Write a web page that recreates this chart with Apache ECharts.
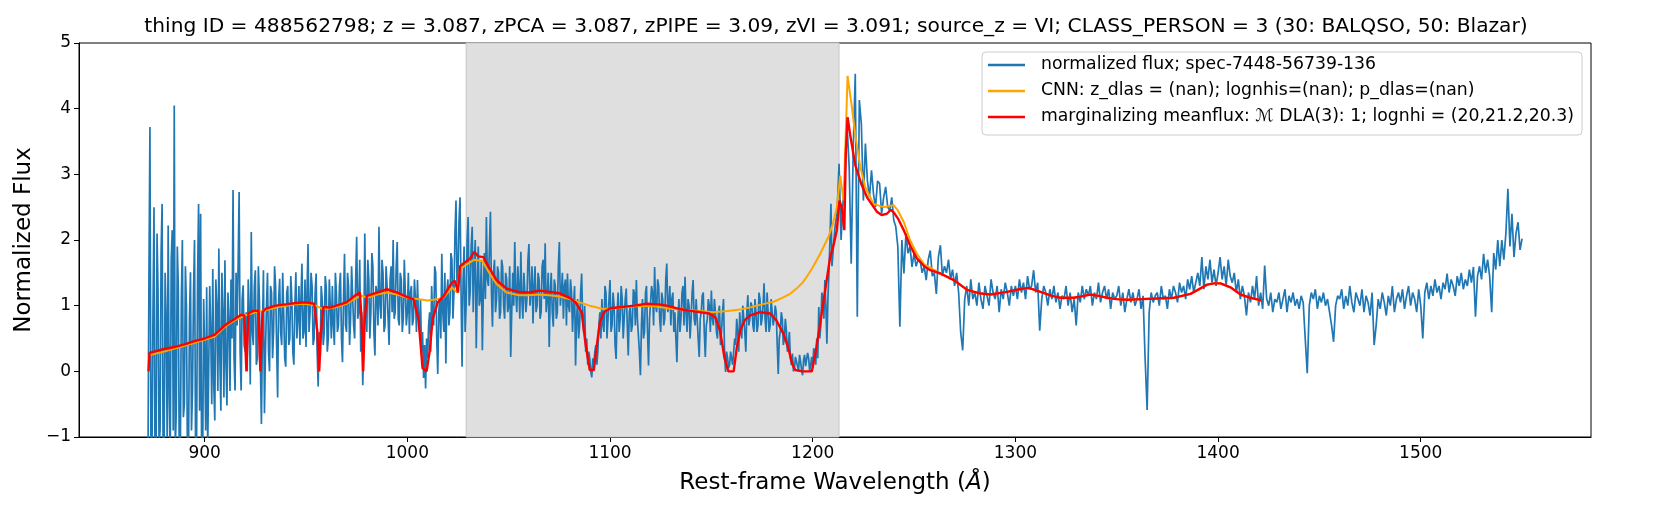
<!DOCTYPE html>
<html>
<head>
<meta charset="utf-8">
<title>spec-7448-56739-136</title>
<script src="https://cdn.jsdelivr.net/npm/echarts@6/dist/echarts.min.js"></script>
<style>
    html, body { margin: 0; padding: 0; background: #fff; }
    #chart { width: 1661px; height: 519px; }
</style>
</head>
<body>
<div id="chart"></div>
<script>
// tick labels
var xTicks = [900, 1000, 1100, 1200, 1300, 1400, 1500];
var yTicks = [-1, 0, 1, 2, 3, 4, 5];

// shaded window (rest-frame wavelength)
var bandRange = [1029, 1213];

// normalized flux, Lyman forest: every half angstrom from 872 to 1029.5
var blueStartA = 872;
var blueStepA = 0.5;
var blueFluxA = [
    -1.6, 1.4, 3.72, -1.2, -1.3, 0.9, 2.5, -1.4, -1.5, 2.1,
    1.2, -1.1, -0.9, 1.8, 2.55, -1.3,
    -1.2, 1.5, 0.8, -1.0, 2.22, -0.4, -1.4, 1.7, 2.15, -0.9,
    4.05, -1.2, -0.6, 1.9, 1.3, -1.5, -1.3, 1.1, 2.0, -0.7,
    -0.5, 1.6, 1.0, -1.3, -1.4, 0.8, 1.51, -0.9, -0.3, 1.2,
    2.0, -1.1, -1.2, 1.4, 2.55, -0.6, 2.4, -1.3, -1.5, 1.1,
    0.3, -0.9, 1.28, -1.2, -1.2, 1.3, 0.6, -0.5, 1.56, -0.2,
    -0.75, 1.4, 1.0, -0.3, 1.87, 0.2, -0.6, 1.5, 0.9, -0.4,
    1.69, 0.1, -0.52, 1.2, 0.8, -0.3, 1.4, 0.5, 2.76, 0.2,
    -0.29, 1.5, 0.7, 1.6, 2.73, 0.3, -0.29, 1.1, 1.31, 0.4,
    0.3, 0.9, 0.0, 1.4, 0.9, -0.2, 2.12, 0.6, 0.4, 1.3,
    1.54, 0.1, 0.2, 1.6, 1.1, 0.1, -0.8, 0.6, 1.54, -0.64,
    0.3, 1.0, 1.5, 0.3, 0.0, 1.3, 1.2, 0.2, 0.6, 1.6,
    1.3, 0.4, -0.4, 1.1, 1.41, 0.6, 0.4, 1.5, 0.9, 0.2,
    0.07, 1.2, 1.3, 0.4, 0.5, 1.45, 1.1, 0.3, 0.1, 1.0,
    1.51, 0.5, 0.8, 1.3, 0.4, 1.1, 1.64, 0.5, 0.6, 1.4,
    0.37, 1.2, 1.94, 0.6, 0.9, 1.5, 1.3, 0.4, 0.5, 1.2,
    1.49, 0.3, -0.23, 0.6, 0.2, 1.3, 1.1, 0.4, 0.6, 1.45,
    1.28, 0.3, 0.5, 1.4, 1.0, 0.5, 1.3, 0.7, 0.4, 1.5,
    1.2, 0.6, 0.7, 1.3, 1.5, 0.5, 0.14, 1.1, 1.79, 0.7,
    0.6, 1.5, 1.3, 0.4, 0.8, 1.6, 1.6, 0.7, 0.5, 1.4,
    2.05, 0.8, 0.9, 1.7, 0.3, 0.9, -0.21, 0.4, 2.1, 0.9,
    0.6, 1.7, 1.4, 0.5, 0.9, 1.8, 1.6, 0.6, 0.24, 1.3,
    1.2, 0.7, 2.2, 1.0, 0.8, 1.7, 1.5, 0.6, 0.7, 1.6,
    1.3, 0.8, 0.4, 1.4, 1.6, 0.9, 2.0, 0.8, 0.9, 1.6,
    1.97, 0.8, 0.7, 1.5, 1.4, 0.6, 0.8, 1.7, 1.2, 0.7,
    0.9, 1.5, 0.57, 1.2, 1.3, 0.7, 0.8, 1.4, 1.1, 0.6,
    1.39, 0.8, 0.6, 1.1, 0.3, 0.6, -0.1, 0.4, -0.26, 0.5,
    0.2, 0.7, 0.9, 0.3, 1.3, 0.8, 0.7, 1.6, 1.5, 0.5,
    -0.04, 0.9, 1.1, 0.5, 1.79, 0.9, 0.6, 1.5, 0.12, 1.2,
    1.4, 0.7, 0.9, 1.8, 1.7, 0.8, 1.2, 2.1, 2.6, 1.3,
    1.5, 2.3, 2.65, 1.2, 0.07, 1.4, 1.9, 0.6, 1.0, 2.0
];

// normalized flux, shaded window: every half angstrom from 1030 to 1209.5
var blueStartB = 1030;
var blueStepB = 0.5;
var blueFluxB = [
    2.35, 1.0, 1.2, 1.9, 2.2, 0.9, 1.6, 2.0, 0.35, 1.3,
    1.9, 1.0, 1.1, 1.7, 0.32, 1.2, 1.8, 1.1, 2.35, 1.4,
    1.3, 1.9, 2.43, 1.2, 0.68, 1.5, 1.7, 0.9, 1.1, 1.6,
    1.5, 0.8, 0.9, 1.7, 1.6, 1.0, 0.8, 1.5, 1.4, 0.9,
    1.0, 1.6, 0.22, 0.9, 1.5, 1.0, 1.97, 1.2, 0.9, 1.6,
    1.3, 0.8, 1.82, 1.1, 0.8, 1.5, 1.5, 0.9, 1.1, 1.7,
    1.94, 1.0, 1.2, 1.6, 0.73, 1.3, 1.6, 0.9, 1.0, 1.5,
    1.4, 0.8, 0.9, 1.6, 1.7, 1.1, 1.95, 0.9, 1.1, 1.5,
    0.37, 1.2, 1.5, 0.9, 0.68, 1.4, 1.3, 0.8, 0.9, 1.6,
    1.97, 1.0, 1.2, 1.5, 0.8, 1.3, 1.4, 0.7, 1.49, 1.0,
    0.9, 1.4, 1.2, 0.6, 1.0, 1.3, 0.09, 0.8, 1.1, 0.5,
    0.7, 1.2, 1.49, 0.8, 0.6, 1.0, 0.3, 0.5, 0.1, 0.3,
    0.2, 0.0, -0.09, 0.2, 0.1, 0.3, 0.4, 0.1, 0.3, 0.7,
    0.9, 0.5, 1.1, 0.7, 0.6, 1.3, 1.2, 0.5, 0.8, 1.1,
    1.39, 0.6, 0.7, 1.2, 1.0, 0.4, 0.19, 0.9, 1.2, 0.6,
    0.8, 1.3, 1.1, 0.5, 0.5, 1.1, 1.26, 0.7, 0.24, 0.9,
    1.0, 0.6, 0.7, 1.25, 1.2, 0.7, 1.39, 0.8, 0.8, 0.3,
    -0.06, 0.7, 1.1, 0.5, 0.6, 1.2, 1.3, 0.6, 0.09, 0.8,
    0.8, 1.3, 1.2, 0.7, 1.59, 1.0, 0.9, 1.4, 1.3, 0.8,
    0.6, 1.2, 1.1, 0.7, 0.8, 1.4, 1.64, 0.9, 1.0, 1.3,
    0.7, 1.1, 1.2, 0.6, 0.9, 0.5, 0.14, 0.8, 1.1, 0.6,
    0.8, 1.2, 1.3, 0.7, 1.44, 0.9, 0.6, 1.1, 1.0, 0.5,
    0.8, 1.2, 1.39, 0.8, 0.7, 1.1, 1.1, 0.5, 0.22, 0.8,
    0.9, 1.15, 1.2, 0.6, 0.22, 0.7, 0.8, 1.1, 1.0, 0.6,
    1.23, 0.8, 0.7, 1.1, 0.9, 0.6, 0.5, 0.9, 1.0, 0.4,
    0.6, 0.9, 1.1, 0.3, -0.01, 0.3, 0.2, 0.05, 0.1, 0.3,
    0.3, 0.1, 0.07, 0.5, 0.4, 0.8, 0.6, 0.3, 0.9, 0.6,
    0.5, 1.0, 0.98, 0.6, 0.3, 0.9, 1.16, 0.7, 0.8, 1.05,
    1.0, 0.7, 0.6, 1.1, 0.9, 0.6, 0.7, 1.2, 1.1, 0.7,
    0.8, 1.0, 1.34, 0.8, 0.6, 1.2, 0.9, 0.6, 0.7, 1.1,
    1.1, 0.7, 0.8, 1.0, 0.9, 0.4, -0.04, 0.5, 0.6, 0.9,
    0.8, 0.4, 0.5, 0.8, 0.62, 0.3, 0.4, 0.6, 0.2, 0.1,
    0.27, 0.0, 0.05, 0.22, 0.2, 0.08, 0.0, 0.25, 0.15, 0.02,
    -0.06, 0.18, 0.25, 0.08, 0.05, 0.28, 0.2, 0.0, 0.1, 0.22,
    0.05, 0.35, 0.3, 0.1, 0.5, 0.2, 0.98, 0.5, 0.7, 1.2,
    1.1, 0.8, 1.39, 1.0, 0.42, 1.1, 1.5, 2.0, 2.55, 1.6
];

// normalized flux, red of Lyman alpha: every angstrom from 1210 to 1550
var blueStartC = 1210;
var blueStepC = 1;
var blueFluxC = [
    1.8, 2.2, 2.4, 3.16, 2.0, 2.6, 3.0, 3.72, 3.11, 1.64,
    3.4, 4.53, 0.83, 4.13, 3.77, 2.6, 3.47, 2.9, 2.65, 3.06,
    2.7, 2.5, 2.9, 2.86, 2.4, 2.65, 2.81, 2.5, 2.45, 2.65,
    2.3, 2.2, 1.9, 0.68, 2.0, 1.49, 2.1, 1.8, 1.9, 1.59,
    1.8, 1.6, 1.7, 1.69, 1.5, 1.6, 1.39, 1.7, 1.84, 1.45,
    1.5, 1.18, 1.74, 1.92, 1.45, 1.6, 1.5, 1.7, 1.4, 1.55,
    1.3, 1.5, 1.2, 0.6, 0.32, 1.1, 1.3, 1.0, 1.4, 1.1,
    1.2, 1.0, 1.35, 1.1, 0.95, 1.3, 1.15, 1.0, 1.4, 1.2,
    1.1, 1.3, 0.9, 1.25, 1.1, 1.35, 1.2, 1.0, 1.3, 1.15,
    1.3, 1.1, 1.4, 1.2, 1.35, 1.1, 1.45, 1.25, 1.3, 1.54,
    1.2, 1.35, 0.62, 1.1, 1.3, 1.2, 1.0, 1.25, 1.1, 1.3,
    1.05, 1.2, 0.95, 1.15, 1.1, 1.3, 1.0, 1.2, 0.9, 1.1,
    0.7, 1.2, 1.05, 1.3, 1.1, 1.25, 1.15, 1.3, 1.0, 1.2,
    1.1, 1.35, 1.05, 1.2, 1.3, 1.1, 1.25, 0.95, 1.2, 1.1,
    1.15, 1.3, 1.0, 1.2, 0.9, 1.1, 1.25, 1.05, 1.2, 1.0,
    1.1, 1.25, 0.95, 1.15, 0.2, -0.59, 0.9, 1.2, 1.05, 1.15,
    1.2, 1.0, 1.3, 1.1, 1.15, 0.95, 1.25, 1.1, 1.3, 1.2,
    1.05, 1.35, 1.2, 1.3, 1.1, 1.4, 1.25, 1.45, 1.2, 1.35,
    1.5, 1.3, 1.74, 1.25, 1.6, 1.4, 1.7, 1.35, 1.55, 1.3,
    1.5, 1.74, 1.4, 1.6, 1.3, 1.7, 1.45, 1.35, 1.5, 1.2,
    1.4, 1.1, 1.3, 1.15, 0.85, 1.2, 1.05, 1.3, 1.1, 1.45,
    1.0, 1.2, 0.95, 1.61, 1.1, 1.0, 1.2, 0.9, 1.1, 1.05,
    1.2, 0.95, 1.1, 1.25, 0.9, 1.15, 1.05, 1.2, 1.0, 1.1,
    0.95, 1.15, 1.05, 0.5, -0.03, 1.0, 1.2, 1.1, 1.25, 0.95,
    1.15, 1.05, 1.2, 1.0, 1.1, 0.9, 0.7, 0.45, 1.0, 1.15,
    1.1, 1.25, 0.95, 1.15, 1.0, 1.3, 1.05, 0.9, 1.2, 1.1,
    1.0, 1.25, 0.9, 1.15, 1.05, 0.85, 1.2, 0.4, 0.7, 1.1,
    0.95, 1.2, 1.05, 0.85, 1.15, 1.0, 1.3, 0.9, 1.1, 1.2,
    1.05, 1.25, 0.95, 1.15, 1.3, 1.0, 1.2, 1.1, 0.9, 1.25,
    1.0, 0.5, 1.2, 1.35, 1.1, 1.3, 1.15, 1.4, 1.2, 1.3,
    1.1, 1.35, 1.25, 1.49, 1.2, 1.4, 1.3, 1.15, 1.45, 1.3,
    1.5, 1.25, 1.4, 1.3, 1.55, 1.35, 1.59, 0.83, 1.45, 1.6,
    1.4, 1.79, 1.5, 1.7, 1.45, 0.9, 1.8, 1.55, 2.0, 1.6,
    2.0, 1.7, 2.1, 2.78, 1.9, 2.4, 1.74, 2.1, 2.27, 1.85, 2.02
];

// CNN model
var cnnWave = [
    872.8, 880, 890, 900, 905, 910, 915, 920, 925, 930,
    935, 940, 945, 950, 955, 958, 962, 965, 970, 975,
    978, 980, 985, 990, 995, 1000, 1005, 1010, 1015, 1018,
    1022, 1024.5, 1026, 1028, 1033, 1037, 1040, 1044, 1049, 1055,
    1060, 1065, 1070, 1075, 1080, 1085, 1090, 1096.7, 1105, 1114.8,
    1122, 1131, 1140, 1151, 1158, 1164, 1170, 1175, 1180.7, 1185,
    1188.9, 1192, 1195, 1197.1, 1200, 1203.7, 1207.8, 1210, 1211.9, 1213.6,
    1215.2, 1216.2, 1217.2, 1219.3, 1221, 1223.5, 1226, 1230, 1235, 1238,
    1239.9, 1242, 1245, 1248, 1251.4, 1255, 1263, 1269.6, 1276.2, 1282,
    1287.7, 1295.9, 1302, 1306.6, 1312.4, 1318, 1322.3, 1328.8, 1334, 1337,
    1341, 1345.3, 1350, 1355.2, 1362, 1370, 1378.2, 1386.4, 1390, 1394.6,
    1398, 1401.2, 1406.1, 1411.1, 1416, 1421.3
];
var cnnFlux = [
    0.25, 0.3, 0.39, 0.48, 0.53, 0.68, 0.78, 0.85, 0.9, 0.93,
    0.97, 1.0, 1.02, 1.03, 1.0, 0.95, 0.96, 0.98, 1.03, 1.12,
    1.15, 1.12, 1.17, 1.2, 1.17, 1.12, 1.1, 1.08, 1.1, 1.13,
    1.28, 1.2, 1.55, 1.6, 1.7, 1.68, 1.52, 1.33, 1.2, 1.16,
    1.16, 1.17, 1.16, 1.14, 1.1, 1.05, 1.0, 0.95, 0.97, 1.0,
    0.99, 0.95, 0.93, 0.9, 0.92, 0.94, 0.98, 1.02, 1.06, 1.12,
    1.18, 1.26, 1.35, 1.44, 1.58, 1.79, 2.05, 2.25, 2.5, 2.98,
    2.6, 3.5, 4.5, 4.03, 3.6, 3.11, 2.8, 2.55, 2.5, 2.52,
    2.53, 2.45, 2.27, 2.0, 1.79, 1.63, 1.49, 1.39, 1.24, 1.19,
    1.17, 1.21, 1.25, 1.27, 1.21, 1.15, 1.12, 1.12, 1.15, 1.17,
    1.15, 1.12, 1.1, 1.09, 1.1, 1.11, 1.12, 1.18, 1.24, 1.32,
    1.34, 1.34, 1.28, 1.17, 1.12, 1.08
];

// marginalizing meanflux model (3 DLAs)
var mfWave = [
    872.3, 872.8, 875, 880, 885, 890, 895, 900, 905, 910,
    915, 918, 919.6, 920.2, 920.6, 921.0, 921.6, 924, 926.6, 927.1,
    927.5, 927.9, 928.5, 930, 935, 940, 945, 950, 954, 955.6,
    956.5, 957.4, 958.6, 962, 965, 970, 974, 976.6, 977.4, 978.2,
    979.0, 980, 985, 990, 995, 1000, 1003, 1005.5, 1007.5, 1009.5,
    1011, 1012.5, 1015, 1018, 1022, 1023.5, 1025, 1026, 1028, 1031,
    1033, 1035, 1037.5, 1040, 1044, 1049, 1055, 1060, 1065, 1070,
    1075, 1080, 1083, 1086, 1088, 1090, 1092, 1093.5, 1095, 1097,
    1100, 1106, 1112, 1118, 1124, 1128, 1134, 1140, 1149, 1152,
    1154.3, 1156.5, 1158.4, 1161, 1162.5, 1164.2, 1166.5, 1169, 1174, 1179,
    1182, 1185.6, 1188, 1190, 1191.4, 1195, 1199.6, 1201.5, 1203.7, 1206,
    1208.6, 1210.5, 1211.9, 1213.2, 1214.3, 1215.6, 1216.3, 1217.2, 1218.5, 1221,
    1224, 1226.8, 1231.7, 1234, 1236.6, 1238.5, 1240, 1242, 1244.9, 1248,
    1251.4, 1255, 1258, 1263, 1269.6, 1276.2, 1282, 1287.7, 1295.9, 1302,
    1306.6, 1312.4, 1318, 1322.3, 1328.8, 1334, 1337, 1341, 1345.3, 1350,
    1355.2, 1362, 1370, 1378.2, 1386.4, 1390, 1394.6, 1398, 1401.2, 1406.1,
    1411.1, 1416, 1421.3
];
var mfFlux = [
    0.0, 0.28, 0.3, 0.34, 0.37, 0.41, 0.46, 0.5, 0.56, 0.7,
    0.8, 0.86, 0.85, 0.3, 0.0, 0.4, 0.88, 0.92, 0.92, 0.3,
    0.0, 0.4, 0.9, 0.95, 1.0, 1.02, 1.04, 1.05, 1.03, 0.6,
    0.0, 0.6, 0.98, 0.97, 1.0, 1.05, 1.15, 1.2, 0.8, 0.0,
    0.8, 1.15, 1.2, 1.25, 1.2, 1.13, 1.1, 0.8, 0.05, 0.0,
    0.3, 0.8, 1.05, 1.15, 1.35, 1.38, 1.2, 1.6, 1.65, 1.72,
    1.82, 1.75, 1.74, 1.6, 1.39, 1.26, 1.21, 1.2, 1.23, 1.21,
    1.19, 1.12, 1.05, 0.9, 0.4, 0.02, 0.02, 0.4, 0.75, 0.9,
    0.96, 0.98, 1.0, 1.03, 1.02, 1.0, 0.95, 0.92, 0.88, 0.82,
    0.62, 0.2, 0.0, 0.0, 0.35, 0.62, 0.78, 0.85, 0.9, 0.88,
    0.78, 0.57, 0.35, 0.1, 0.02, 0.0, 0.0, 0.3, 0.73, 1.2,
    1.74, 1.95, 2.15, 2.6, 2.5, 2.15, 3.3, 3.87, 3.6, 3.14,
    2.85, 2.65, 2.43, 2.38, 2.4, 2.46, 2.42, 2.33, 2.15, 1.92,
    1.72, 1.6, 1.54, 1.49, 1.39, 1.24, 1.19, 1.17, 1.21, 1.25,
    1.27, 1.21, 1.15, 1.12, 1.12, 1.15, 1.17, 1.15, 1.12, 1.1,
    1.09, 1.1, 1.11, 1.12, 1.18, 1.24, 1.32, 1.34, 1.34, 1.28,
    1.17, 1.12, 1.08
];

var seriesNames = [
    'normalized flux; spec-7448-56739-136',
    'CNN: z_dlas = (nan); lognhis=(nan); p_dlas=(nan)',
    'marginalizing meanflux: \u2133 DLA(3): 1; lognhi = (20,21.2,20.3)'
];

(function () {
    var myChart = echarts.init(document.getElementById('chart'));
    var font = 'DejaVu Sans';

    function toPoints(start, step, flux) {
        return flux.map(function (f, i) { return [start + i * step, f]; });
    }
    var bluePoints = toPoints(blueStartA, blueStepA, blueFluxA)
        .concat(toPoints(blueStartB, blueStepB, blueFluxB))
        .concat(toPoints(blueStartC, blueStepC, blueFluxC));
    var cnnPoints = cnnWave.map(function (w, i) { return [w, cnnFlux[i]]; });
    var mfPoints = mfWave.map(function (w, i) { return [w, mfFlux[i]]; });

    var option = {
        animation: false,
        backgroundColor: '#ffffff',
        textStyle: { fontFamily: font, color: '#000' },
        title: {
            text: 'thing ID = 488562798; z = 3.087, zPCA = 3.087, zPIPE = 3.09, zVI = 3.091; source_z = VI; CLASS_PERSON = 3 (30: BALQSO, 50: Blazar)',
            left: 836,
            top: 17,
            padding: 0,
            textAlign: 'center',
            textStyle: { fontFamily: font, fontSize: 20.2, fontWeight: 'normal', color: '#000' }
        },
        legend: {
            data: seriesNames,
            orient: 'vertical',
            right: 79,
            top: 52,
            padding: [3, 8, 8, 6],
            itemGap: 6,
            itemWidth: 37,
            itemHeight: 2.5,
            icon: 'rect',
            selectedMode: false,
            backgroundColor: 'rgba(255,255,255,0.8)',
            borderColor: '#cccccc',
            borderWidth: 1,
            borderRadius: 4,
            textStyle: { fontFamily: font, fontSize: 17.25, lineHeight: 20, color: '#000', padding: [0, 0, 0, 11] }
        },
        grid: {
            left: 79,
            right: 70,
            top: 43,
            bottom: 82,
            show: true,
            borderColor: '#000',
            borderWidth: 1,
            backgroundColor: 'transparent'
        },
        xAxis: {
            type: 'value',
            min: 838,
            max: 1584,
            name: 'Rest-frame Wavelength ({i|\u00c5})',
            nameLocation: 'middle',
            nameGap: 35,
            nameTextStyle: {
                fontFamily: font, fontSize: 23, color: '#000',
                rich: { i: { fontFamily: font, fontSize: 23, fontStyle: 'italic', color: '#000' } }
            },
            axisLine: { onZero: false, lineStyle: { color: '#000', width: 1 } },
            axisTick: { length: 5, lineStyle: { color: '#000' }, customValues: xTicks },
            axisLabel: {
                fontFamily: font, fontSize: 17, color: '#000', margin: 8, customValues: xTicks,
                formatter: function (v) { return String(v); }
            },
            splitLine: { show: false }
        },
        yAxis: {
            type: 'value',
            min: yTicks[0],
            max: yTicks[yTicks.length - 1],
            interval: 1,
            name: 'Normalized Flux',
            nameLocation: 'middle',
            nameGap: 41,
            nameTextStyle: { fontFamily: font, fontSize: 23, color: '#000' },
            axisLine: { onZero: false, lineStyle: { color: '#000', width: 1 } },
            axisTick: { length: 5, lineStyle: { color: '#000' } },
            axisLabel: {
                fontFamily: font, fontSize: 17, color: '#000', margin: 8,
                formatter: function (v) { return String(v).replace('-', '\u2212'); }
            },
            splitLine: { show: false }
        },
        series: [
            {
                name: 'band',
                type: 'line',
                data: [],
                z: 0,
                silent: true,
                markArea: {
                    silent: true,
                    itemStyle: { color: '#dfdfdf', borderColor: '#c8c8c8', borderWidth: 1 },
                    data: [[{ xAxis: bandRange[0] }, { xAxis: bandRange[1] }]]
                }
            },
            {
                name: seriesNames[0],
                type: 'line',
                data: bluePoints,
                showSymbol: false,
                z: 2,
                color: '#1f77b4',
                lineStyle: { color: '#1f77b4', width: 1.7 }
            },
            {
                name: seriesNames[1],
                type: 'line',
                data: cnnPoints,
                showSymbol: false,
                z: 3,
                color: '#ffa500',
                lineStyle: { color: '#ffa500', width: 2 }
            },
            {
                name: seriesNames[2],
                type: 'line',
                data: mfPoints,
                showSymbol: false,
                z: 4,
                color: '#ff0000',
                lineStyle: { color: '#ff0000', width: 2.4 }
            }
        ]
    };

    myChart.setOption(option);
    window.addEventListener('resize', function () {
        myChart.resize();
    });
})();
</script>
</body>
</html>
